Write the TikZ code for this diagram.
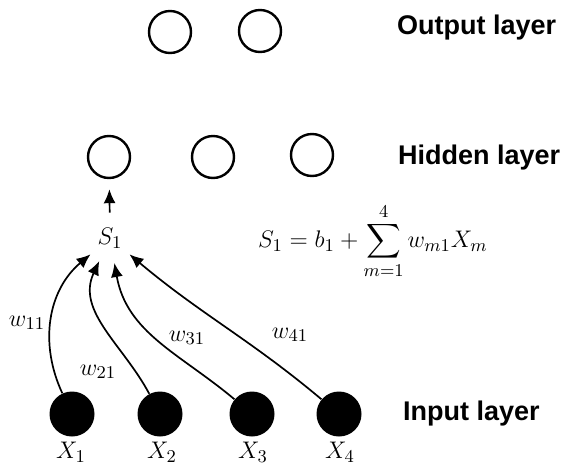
\documentclass[tikz,border=0pt]{standalone}
\usepackage{amsmath}
\usepackage{fontspec}
\newfontfamily\layerfont{Liberation Sans}
\usepackage{tikz}
\usetikzlibrary{positioning}
\usetikzlibrary{arrows.meta}

\begin{document}
\begin{tikzpicture}[x=0.5pt, y=0.5pt,
    neuron/.style={circle, draw, line width=1.2pt, minimum size=21pt, inner sep=0pt},
    inneuron/.style={circle, fill=black, minimum size=22.5pt, inner sep=0pt},
    layername/.style={anchor=west, font=\layerfont\bfseries\fontsize{13.5}{16}\selectfont},
    wire/.style={-{Latex[length=7pt,width=6pt]}, line width=0.85pt},
    mathlab/.style={font=\fontsize{12.5}{15}\selectfont, inner sep=1pt}]
    \useasboundingbox (0,0) rectangle (562,468);

    % Output layer
    \node[neuron] (out1) at (170,436) {};
    \node[neuron] (out2) at (260,437) {};
    \node[layername] (outname) at (390,440) {Output layer};

    % Hidden layer
    \node[neuron] (hid1) at (109,311) {};
    \node[neuron] (hid2) at (213,311) {};
    \node[neuron] (hid3) at (312,313) {};
    \node[layername] (hidname) at (391,310) {Hidden layer};

    % Sum into the first hidden neuron
    \node[mathlab, circle, minimum size=25pt] (s1) at (110,230) {$S_1$};
    \draw[wire, shorten >=5pt] (s1) -- (hid1);
    \node[mathlab] (sumeq) at (373,227) {$\displaystyle S_1 = b_1 + \sum_{m=1}^{4} w_{m1} X_m$};

    % Input layer
    \node[inneuron] (in1) at (72,54) {};
    \node[inneuron] (in2) at (160,54) {};
    \node[inneuron] (in3) at (252,54) {};
    \node[inneuron] (in4) at (339,54) {};
    \node[layername] (inname) at (396,54) {Input layer};
    \node[mathlab] (x1) at (71,16) {$X_1$};
    \node[mathlab] (x2) at (162,16) {$X_2$};
    \node[mathlab] (x3) at (253,16) {$X_3$};
    \node[mathlab] (x4) at (340,16) {$X_4$};

    % Weighted connections
    \draw[wire] (in1) to[out=115, in=220] (s1);
    \draw[wire] (in2) to[out=118, in=245] (s1);
    \draw[wire] (in3) to[out=140, in=280] (s1);
    \draw[wire] (in4) to[out=140, in=320] (s1);
    \node[mathlab] (w11) at (27,145) {$w_{11}$};
    \node[mathlab] (w21) at (98,96) {$w_{21}$};
    \node[mathlab] (w31) at (187,130) {$w_{31}$};
    \node[mathlab] (w41) at (290,133) {$w_{41}$};
\end{tikzpicture}
\end{document}
